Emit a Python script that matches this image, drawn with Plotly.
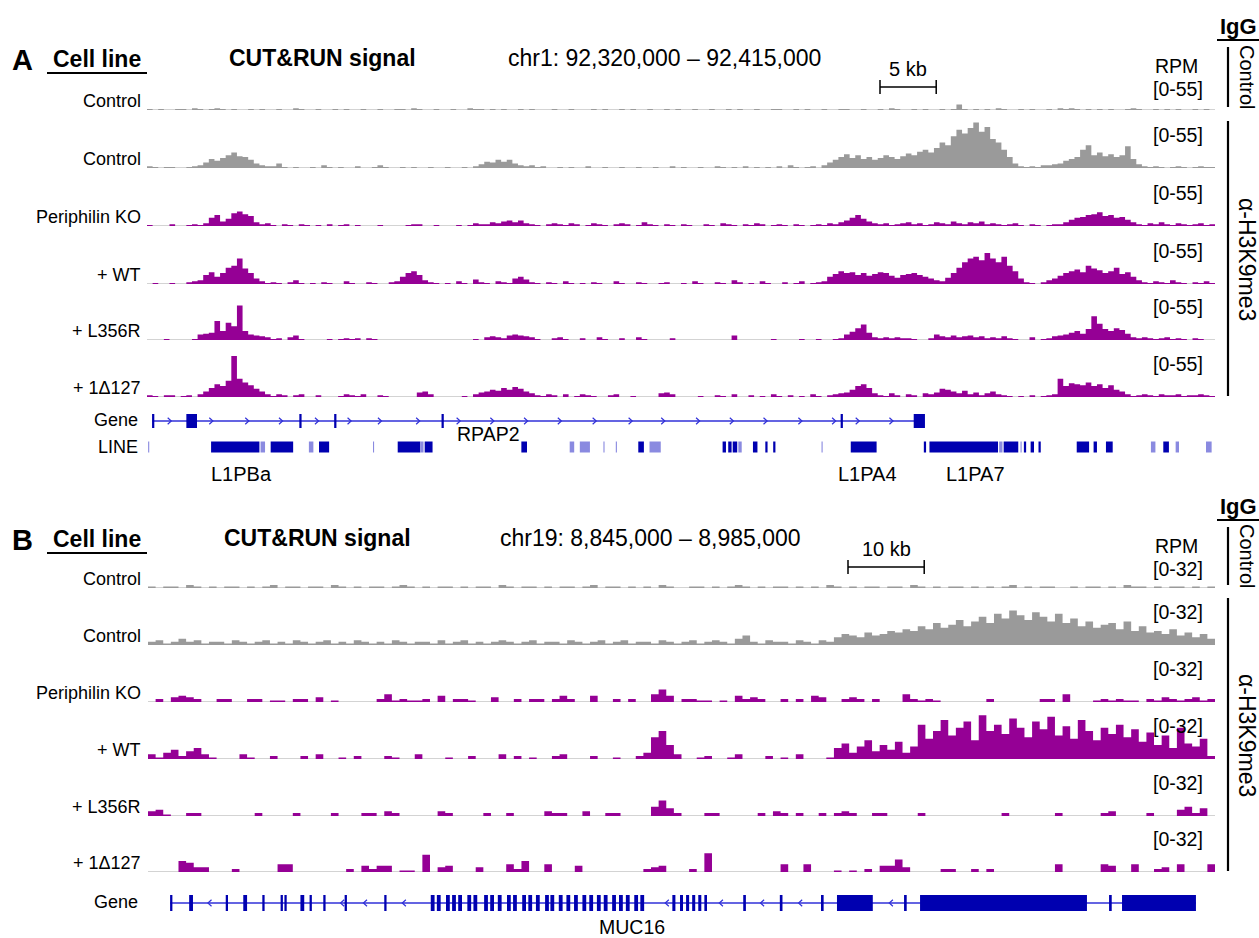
import plotly.graph_objects as go

W, H = 1259, 938
FONT = "Liberation Sans, Arial, Helvetica, sans-serif"

# ======================= DATA : panel A =======================
A_CHR, A_START, A_END = "chr1", 92_320_000, 92_415_000
A_BIN = 500                      # bp per bin
A_YMAX = 55
A_SCALE_LABEL = "[0-55]"
A_TRACK_LABELS = ["Control", "Control", "Periphilin KO", "+ WT", "+ L356R", "+ 1\u0394127"]

A_IGG = [1,0,1,0,0,1,1,0,2,1, 0,1,2,1,0,1,0,0,1,0, 1,0,0,1,0,0,2,1,0,0, 1,0,0,1,0,1,0,0,1,0,
         0,1,0,0,1,1,0,2,1,0, 0,1,0,0,1,0,0,2,1,1, 0,1,0,1,0,0,1,0,1,0, 0,0,1,0,0,1,0,0,0,1,
         0,1,0,0,1,0,1,0,0,1, 0,0,1,0,1,0,0,1,0,0, 1,0,0,1,0,1,0,0,1,0, 0,1,1,0,0,1,0,1,0,0,
         1,0,0,1,1,0,0,1,0,0, 1,0,2,1,0,0,1,0,1,0, 0,1,0,1,6,1,0,1,0,1, 0,2,1,0,0,1,0,1,0,0,
         1,0,2,1,2,1,0,1,0,1, 0,1,0,0,1,2,1,0,0,1, 0,1,0,1,0,0,1,0,1,0]
A_CTRL = [2,1,0,1,1,0,0,1,2,3, 6,10,8,11,14,17,13,12,9,5, 3,2,2,5,1,0,1,0,0,1, 0,3,1,0,1,0,0,2,0,0,
          1,3,1,0,0,1,0,1,0,0, 1,0,0,1,0,0,1,0,2,4, 7,6,9,7,9,5,3,2,3,1, 2,0,0,1,0,1,0,0,2,0,
          0,1,0,0,1,0,0,1,0,0, 1,0,0,2,0,1,0,0,1,0, 0,2,1,0,1,0,2,0,1,0, 1,0,2,0,3,1,0,1,2,0,
          3,6,9,12,15,11,14,10,12,9, 11,14,12,10,13,16,14,18,20,17, 22,28,25,35,42,38,44,50,40,45,
          32,28,20,12,5,2,1,2,1,3, 3,4,5,8,10,12,20,25,14,17, 13,15,12,14,24,10,4,2,1,2,
          1,0,1,2,1,0,1,2,1,1]
A_KO = [1,0,0,0,2,0,0,1,2,1, 3,9,12,5,8,14,16,13,11,4, 2,3,1,0,2,1,0,2,1,0, 1,0,2,0,1,2,0,1,0,0,
        0,1,0,0,0,0,1,2,2,0, 0,1,0,0,0,1,0,1,3,2, 2,4,3,5,6,4,6,3,2,1, 0,2,3,2,1,3,2,0,1,3,
        2,1,0,2,3,2,0,1,4,2, 1,0,2,1,0,2,1,0,0,2, 1,0,3,2,1,0,2,1,3,2, 0,1,2,1,0,2,1,0,1,2,
        1,3,2,4,6,9,12,8,5,3, 2,3,1,2,3,4,2,3,1,2, 4,3,2,5,3,2,4,3,5,2, 3,2,1,2,3,1,0,2,1,0,
        1,2,2,4,7,9,10,12,13,15, 11,12,9,10,7,4,2,1,3,2, 4,2,1,3,2,1,2,3,1,2]
A_WT = [0,1,0,0,1,0,0,2,3,4, 10,13,8,12,18,20,28,17,12,6, 3,1,2,1,0,2,4,1,0,1, 0,2,1,0,0,3,1,0,0,2,
        1,0,0,2,3,8,12,14,10,4, 2,1,0,1,0,3,1,0,5,2, 1,0,3,2,1,6,8,5,2,1, 0,2,1,0,3,1,0,1,0,2,
        1,0,0,3,1,0,0,2,1,0, 0,1,2,0,0,1,0,3,1,0, 0,2,1,0,4,2,0,1,0,3, 1,0,0,2,0,1,3,0,1,2,
        3,8,11,14,12,13,10,12,9,11, 13,12,9,7,10,11,12,10,8,6, 4,3,7,12,18,24,28,30,26,34,
        28,24,30,20,14,6,2,1,0,2, 4,6,9,12,14,16,13,20,17,15, 12,14,18,11,13,8,4,2,1,3,
        2,1,4,2,1,0,2,1,3,1]
A_L356R = [0,0,0,1,0,0,0,0,1,6, 7,8,21,10,19,15,38,10,6,5, 4,3,1,2,0,3,5,1,0,0, 0,0,1,0,1,2,1,2,0,2,
           1,0,0,0,0,0,0,0,0,0, 0,0,0,0,0,0,0,0,1,0, 3,4,3,2,5,6,5,4,3,1, 0,0,2,3,1,0,0,2,0,0,
           3,1,0,0,2,0,0,3,1,0, 0,0,0,2,0,0,0,0,0,0, 0,0,0,0,5,0,0,0,0,0, 0,1,0,0,0,0,1,0,0,1,
           0,0,1,2,6,9,13,17,8,3, 2,3,2,3,2,2,1,0,0,2, 6,4,3,5,3,4,5,3,4,2, 3,2,4,2,1,0,0,3,0,1,
           2,4,5,6,8,10,7,12,26,18, 12,10,13,11,7,3,2,3,2,1, 2,3,1,2,1,0,2,1,0,0]
A_D127 = [2,1,0,2,2,0,1,2,0,3, 6,10,14,12,18,45,20,16,13,9, 6,3,1,3,2,0,2,3,0,0, 2,0,0,0,1,3,2,1,3,0,
          0,2,1,0,0,0,0,0,5,6, 3,0,0,0,0,0,1,0,3,5, 6,8,7,10,8,11,9,6,4,2, 1,3,2,0,3,0,1,3,2,1,
          0,0,2,3,0,0,1,0,0,0, 0,4,5,3,0,0,0,0,1,0, 0,2,1,0,3,0,0,2,0,1, 0,3,1,0,2,0,1,0,3,1,
          0,2,3,4,5,8,12,14,10,4, 2,1,4,2,0,3,2,0,4,3, 5,9,8,6,4,7,3,5,2,4, 6,3,2,1,0,1,0,2,0,1,
          2,3,20,12,15,14,13,16,12,14, 10,13,8,6,3,1,2,3,2,1, 3,2,2,3,1,2,2,3,2,1]
A_TRACKS = [A_IGG, A_CTRL, A_KO, A_WT, A_L356R, A_D127]

# gene RPAP2 (kb from region start, + strand)
A_GENE_NAME, A_GENE_NAME_KB = "RPAP2", 30.4
A_GENE_SPAN_KB = (0.5, 68.6)
A_EXON_START_KB = [0.45, 3.5, 13.55, 16.65, 26.2, 61.7, 68.2]
A_EXON_END_KB   = [0.65, 4.45, 13.75, 16.85, 26.4, 61.9, 69.2]
A_GENE_CHEVRON_KB = [2.0, 5.7, 8.9, 11.9, 15.1, 18.0, 20.7, 24.1, 27.7, 30.7, 33.7, 36.7, 39.8,
                     43.0, 45.9, 49.0, 52.0, 55.0, 58.1, 61.1, 63.2, 66.2]
# LINE repeats (kb, shade 1 = dark, 0 = light)
A_LINE_START_KB = [0.1, 5.7, 10.1, 11.0, 14.4, 15.3, 20.1, 22.3, 24.3, 24.7, 33.3, 37.6, 38.5, 40.6, 41.7,
                   43.7, 44.7, 51.2, 51.7, 52.1, 52.6, 53.9, 55.0, 55.7, 60.0, 62.6, 69.1, 69.6, 75.8, 76.2,
                   77.7, 78.0, 78.6, 79.3, 82.7, 84.2, 85.3, 89.3, 90.4, 91.5, 94.2]
A_LINE_END_KB   = [0.2, 10.0, 10.5, 13.0, 14.8, 16.2, 20.2, 24.3, 24.6, 25.4, 33.8, 38.0, 39.4, 40.7, 41.8,
                   44.2, 45.7, 51.5, 52.0, 52.5, 52.9, 54.3, 55.2, 55.9, 60.1, 64.9, 69.3, 75.7, 76.1, 77.5,
                   77.8, 78.2, 78.9, 79.5, 83.8, 84.5, 85.9, 89.7, 90.9, 91.8, 94.7]
A_LINE_DARK     = [0, 1, 0, 1, 0, 1, 0, 1, 0, 1, 1, 0, 0, 0, 0,
                   1, 0, 1, 1, 1, 0, 1, 1, 1, 0, 1, 1, 1, 0, 1,
                   0, 1, 1, 1, 1, 1, 1, 0, 1, 0, 0]
A_LINE_NAMES = ["L1PBa", "L1PA4", "L1PA7"]
A_LINE_NAME_KB = [8.4, 64.1, 73.7]
A_LINE_CHEV_KB = [8.5, 64.0, 71.4, 73.7]
A_LINE_CHEV_DIR = [-1, -1, 1, 1]
A_SCALEBAR_KB = 5

# ======================= DATA : panel B =======================
B_CHR, B_START, B_END = "chr19", 8_845_000, 8_985_000
B_BIN = 1000
B_YMAX = 32
B_SCALE_LABEL = "[0-32]"
B_TRACK_LABELS = A_TRACK_LABELS

B_IGG = [1,0,1,1,0,2,1,0,1,0, 1,1,0,1,0,1,2,0,1,1, 0,1,1,0,2,1,0,1,0,1, 1,0,1,2,1,0,1,0,1,1,
         0,1,0,1,1,0,2,1,0,1, 1,0,1,0,1,1,0,1,2,0, 1,1,0,1,0,1,0,2,1,0, 0,1,1,0,1,0,1,2,1,0,
         1,0,1,1,0,1,0,1,0,2, 1,0,1,0,1,1,0,1,1,0, 2,1,0,1,0,1,1,0,1,0, 1,0,1,2,0,1,0,1,1,0,
         0,1,0,1,1,0,1,0,2,1, 1,0,1,0,1,1,0,1,0,1]
B_CTRL = [2,3,1,2,4,2,3,1,2,2, 1,3,2,1,2,3,1,2,1,3, 2,1,2,3,1,2,1,3,2,1, 2,1,3,2,1,2,2,1,3,1,
          2,3,1,2,1,2,3,2,1,2, 3,1,2,2,1,3,2,1,2,3, 1,2,3,1,2,2,1,3,2,1, 2,3,1,2,3,2,1,4,6,2,
          1,3,2,2,1,3,2,1,3,2, 5,7,6,5,8,6,7,9,8,10, 9,12,10,14,11,13,16,12,15,18, 14,20,17,22,19,16,21,18,15,20,
          14,17,12,15,11,13,14,10,15,9, 12,8,9,7,10,6,8,5,7,4]
B_KO = [0,2,0,3,4,3,2,0,0,2, 2,0,0,2,2,0,1,1,0,2, 2,0,3,0,1,0,0,0,0,0, 2,5,1,2,1,1,2,0,4,0,
        2,2,1,0,0,3,0,0,2,0, 2,2,0,2,4,2,0,0,4,0, 0,2,0,2,0,0,5,8,4,0, 2,2,1,1,0,1,0,4,2,3,
        2,0,0,2,0,2,0,4,3,0, 0,2,3,2,0,2,0,0,0,5, 2,1,2,1,0,0,0,0,0,0, 2,0,0,0,0,0,0,2,2,0,
        5,0,0,0,1,2,1,2,1,1, 0,2,1,3,2,1,2,3,1,2]
B_WT = [3,1,4,6,2,5,7,3,1,0, 0,0,3,1,0,0,2,0,0,0, 2,0,3,0,0,1,0,2,0,0, 0,2,1,0,0,3,0,0,0,1,
        0,0,2,0,0,0,3,0,2,0, 1,0,0,2,3,0,0,0,2,0, 0,1,0,0,2,4,14,18,9,3, 0,0,1,2,0,0,1,3,0,0,
        0,2,0,1,0,3,0,0,0,1, 7,10,4,8,12,5,9,6,11,4, 8,22,13,18,25,15,20,24,12,28, 18,22,16,26,20,14,24,19,27,15,
        21,13,25,18,12,20,16,22,14,19, 11,17,9,15,7,20,10,8,13,2]
B_L356R = [3,4,1,0,0,2,2,0,0,0, 0,0,0,0,2,0,0,0,0,2, 0,0,0,0,2,0,0,0,2,2, 0,3,2,0,0,0,0,0,3,2,
           0,0,0,0,2,0,0,2,0,0, 0,0,3,2,2,0,0,3,0,0, 2,2,0,0,0,0,6,10,5,2, 0,0,0,2,2,0,0,0,0,0,
           2,0,3,2,0,2,0,0,2,0, 2,3,2,0,0,2,2,0,0,0, 0,2,0,0,0,0,0,0,0,0, 0,0,2,0,0,0,0,0,0,2,
           0,0,0,0,0,2,3,0,0,0, 0,2,0,0,0,4,6,2,5,0]
B_D127 = [0,0,0,0,7,6,3,3,0,0, 0,2,0,0,0,0,0,5,5,0, 0,0,0,0,0,0,2,0,4,2, 4,4,0,1,1,0,11,0,3,4,
          0,0,0,3,0,0,0,5,2,7, 0,0,5,0,0,0,4,0,0,0, 0,0,0,0,0,2,3,4,0,0, 0,2,0,12,0,0,0,0,0,0,
          0,0,0,5,0,0,5,0,0,0, 1,0,1,0,2,0,4,4,8,3, 0,0,0,0,2,2,0,0,2,0, 2,0,0,0,0,0,0,0,0,5,
          0,0,0,0,0,5,4,0,0,5, 0,0,2,3,0,5,0,0,0,5]
B_TRACKS = [B_IGG, B_CTRL, B_KO, B_WT, B_L356R, B_D127]

# gene MUC16 (kb from region start, - strand)
B_GENE_NAME, B_GENE_NAME_KB = "MUC16", 63.5
B_GENE_SPAN_KB = (2.9, 137.5)
B_EXON_START_KB = [2.9, 5.4, 10.2, 12.5, 15.0, 17.4, 17.9, 20.0, 21.2, 23.0, 25.8, 31.0,
                   37.1, 37.9, 39.1, 39.9, 40.7, 41.9, 42.7, 44.1, 44.9, 45.9, 47.1, 47.9, 49.1, 49.9,
                   50.9, 52.1, 52.8, 53.9, 54.9, 55.9, 57.0, 57.9, 58.9, 59.8, 60.9, 61.8, 62.7, 63.8, 64.6,
                   68.8, 69.8, 70.6, 71.4, 72.2, 73.0, 78.1, 82.9, 88.3,
                   90.4, 99.2, 101.3, 126.1, 127.8]
B_EXON_END_KB   = [3.2, 5.9, 10.5, 13.0, 15.3, 17.7, 18.2, 20.5, 21.5, 23.3, 26.1, 31.3,
                   37.6, 38.4, 39.6, 40.4, 41.2, 42.4, 43.2, 44.6, 45.4, 46.4, 47.6, 48.4, 49.6, 50.4,
                   51.4, 52.6, 53.3, 54.4, 55.4, 56.4, 57.5, 58.4, 59.4, 60.3, 61.4, 62.3, 63.2, 64.3, 65.1,
                   69.2, 70.2, 71.0, 71.8, 72.6, 73.35, 78.45, 83.25, 88.65,
                   95.1, 99.55, 123.2, 126.45, 137.5]
B_GENE_CHEV_KB = [8.1, 25.5, 28.5, 33.6, 68.1, 75.2, 80.6, 85.6, 97.5]
B_BLOCK_CHEV_KB = [105.8, 110.4, 114.8, 119.3, 132.4, 136.9]
B_SCALEBAR_KB = 10

# ======================= STYLE / LAYOUT =======================
GRAY, PURPLE = "#9a9a9a", "#950095"
BASE = "#c4c4c4"
GENE_BLUE, GENE_LINE = "#0000b0", "#3030d8"
LINE_LIGHT = "#8a8ae0"
TH = 50  # track height px

A_X_PX = (147, 1215)
B_X_PX = (148, 1215)
A_BASE_PX = [110, 168, 226, 284, 340, 397]
A_GENE_PX, A_LINE_PX = 421, 447
B_BASE_PX = [588, 645, 702, 759, 816, 872]
B_GENE_PX = 903
LABEL_FS, SCALE_FS, HEAD_FS = 18, 19.5, 23


def py(p):
    return 1 - p / H


def px(p):
    return p / W


fig = go.Figure()
layout = dict(
    width=W, height=H, margin=dict(l=0, r=0, t=0, b=0),
    paper_bgcolor="white", plot_bgcolor="white", showlegend=False,
    font=dict(family=FONT, color="black"),
)
layout["xaxis"] = dict(domain=[px(A_X_PX[0]), px(A_X_PX[1])], range=[A_START, A_END],
                       visible=False, anchor="y1")
layout["xaxis2"] = dict(domain=[px(B_X_PX[0]), px(B_X_PX[1])], range=[B_START, B_END],
                        visible=False, anchor="y9")
shapes, anns = [], []


def add_yaxis(n, top_px, bot_px, rng, xanchor):
    layout["yaxis" + ("" if n == 1 else str(n))] = dict(
        domain=[py(bot_px), py(top_px)], range=rng, visible=False, anchor=xanchor)


def text(t, x, y, size, bold=False, xanchor="center", angle=0, xref="paper", color="black"):
    anns.append(dict(text=f"<b>{t}</b>" if bold else t, x=x, y=y, xref=xref, yref="paper",
                     showarrow=False, xanchor=xanchor, yanchor="middle", textangle=angle,
                     font=dict(size=size, family=FONT, color=color)))


def signal(vals, start, binbp, xa, ya, color, end):
    xs = [start + i * binbp for i in range(len(vals))] + [end]
    ys = list(vals) + [vals[-1]]
    fig.add_trace(go.Scatter(x=[start, end], y=[0, 0], mode="lines", line=dict(color=BASE, width=1.3),
                             xaxis=xa, yaxis=ya, hoverinfo="skip"))
    fig.add_trace(go.Scatter(x=xs, y=ys, mode="lines", line=dict(color=color, width=0, shape="hv"),
                             fill="tozeroy", fillcolor=color, xaxis=xa, yaxis=ya, hoverinfo="skip"))


def chevrons(xa, ya, centers_bp, dirs, half_w_bp, half_h, color, width=1.2):
    xs, ys = [], []
    for c, d in zip(centers_bp, dirs):
        xs += [c - d * half_w_bp, c + d * half_w_bp, c - d * half_w_bp, None]
        ys += [half_h, 0, -half_h, None]
    fig.add_trace(go.Scatter(x=xs, y=ys, mode="lines", line=dict(color=color, width=width),
                             xaxis=xa, yaxis=ya, hoverinfo="skip", connectgaps=False))


def panel(letter, tracks, start, end, binbp, ymax, scale_lab, labels, base_px, xa, yoff,
          chr_text, chr_x, bar_kb, bar_px0, x_px):
    ax_n0 = 1 if xa == "x" else 9
    for k, (vals, yb, lab) in enumerate(zip(tracks, base_px, labels)):
        n = ax_n0 + k
        add_yaxis(n, yb - TH, yb, [0, ymax], xa)
        signal(vals, start, binbp, xa, "y" + str(n), GRAY if k < 2 else PURPLE, end)
        text(lab, px(143), py(yb - 9), LABEL_FS, xanchor="right")
        if k > 0:
            text(scale_lab, px(1178), py(yb - 33), SCALE_FS)
    # header
    text(letter, px(22), py(yoff + 60), 29, bold=True)
    text("Cell line", px(97), py(yoff + 59), 23, bold=True)
    shapes.append(dict(type="line", xref="paper", yref="paper", x0=px(47), x1=px(147),
                       y0=py(yoff + 73), y1=py(yoff + 73), line=dict(color="black", width=2.2)))
    text("CUT&RUN signal", px(322 - (4 if xa == "x2" else 0)), py(yoff + 58), HEAD_FS, bold=True)
    text(chr_text, px(chr_x), py(yoff + 58), HEAD_FS)
    text("RPM", px(1176), py(yoff + 66), SCALE_FS)
    text(scale_lab, px(1178), py(yoff + 89), SCALE_FS)
    # scale bar (data coordinates)
    x0 = start + (bar_px0 - x_px[0]) / (x_px[1] - x_px[0]) * (end - start)
    x1 = x0 + bar_kb * 1000
    yb_ = py(yoff + 87)
    shapes.append(dict(type="line", xref=xa, yref="paper", x0=x0, x1=x1, y0=yb_, y1=yb_,
                       line=dict(color="black", width=1.5)))
    for xx in (x0, x1):
        shapes.append(dict(type="line", xref=xa, yref="paper", x0=xx, x1=xx, y0=py(yoff + 80),
                           y1=py(yoff + 94), line=dict(color="black", width=1.5)))
    anns.append(dict(text=f"{bar_kb} kb", x=(x0 + x1) / 2, y=py(yoff + 69), xref=xa, yref="paper",
                     showarrow=False, xanchor="center", yanchor="middle",
                     font=dict(size=20, family=FONT, color="black")))
    # IgG / antibody brackets
    text("IgG", px(1238), py(yoff + 26), 22, bold=True)
    shapes.append(dict(type="line", xref="paper", yref="paper", x0=px(1217), x1=px(1259),
                       y0=py(yoff + 40), y1=py(yoff + 40), line=dict(color="black", width=2.2)))
    shapes.append(dict(type="line", xref="paper", yref="paper", x0=px(1228), x1=px(1228),
                       y0=py(yoff + 47), y1=py(base_px[0] - 3), line=dict(color="black", width=2.2)))
    text("Control", px(1247), py((yoff + 47 + base_px[0] - 3) / 2), 20, angle=90)
    shapes.append(dict(type="line", xref="paper", yref="paper", x0=px(1228), x1=px(1228),
                       y0=py(base_px[1] - 47), y1=py(base_px[5] - 1), line=dict(color="black", width=2.2)))
    text("\u03b1-H3K9me3", px(1247), py((base_px[1] - 47 + base_px[5]) / 2), 23, angle=90)


panel("A", A_TRACKS, A_START, A_END, A_BIN, A_YMAX, A_SCALE_LABEL, A_TRACK_LABELS, A_BASE_PX,
      "x", 0, f"{A_CHR}: 92,320,000 \u2013 92,415,000", 664, A_SCALEBAR_KB, 880, A_X_PX)
panel("B", B_TRACKS, B_START, B_END, B_BIN, B_YMAX, B_SCALE_LABEL, B_TRACK_LABELS, B_BASE_PX,
      "x2", 480, f"{B_CHR}: 8,845,000 \u2013 8,985,000", 650, B_SCALEBAR_KB, 848, B_X_PX)


# ---------------- gene tracks ----------------
def gene(xa, ya, n, center_px, start, span, ex_s, ex_e, half, chev_kb, chev_dir, chev_w_bp,
         block_chev=()):
    add_yaxis(n, center_px - 15, center_px + 15, [-15, 15], xa)
    shapes.append(dict(type="line", xref=xa, yref=ya, x0=start + span[0] * 1000, x1=start + span[1] * 1000,
                       y0=0, y1=0, line=dict(color=GENE_LINE, width=1.4)))
    for s, e in zip(ex_s, ex_e):
        shapes.append(dict(type="rect", xref=xa, yref=ya, x0=start + s * 1000, x1=start + e * 1000,
                           y0=-half, y1=half, fillcolor=GENE_BLUE, line=dict(width=0)))
    chevrons(xa, ya, [start + c * 1000 for c in chev_kb], [chev_dir] * len(chev_kb), chev_w_bp, 3.2,
             GENE_LINE)
    if block_chev:
        chevrons(xa, ya, [start + c * 1000 for c in block_chev], [chev_dir] * len(block_chev), chev_w_bp,
                 3.2, "white")


a_px_per_bp = (A_X_PX[1] - A_X_PX[0]) / (A_END - A_START)
b_px_per_bp = (B_X_PX[1] - B_X_PX[0]) / (B_END - B_START)

gene("x", "y7", 7, A_GENE_PX, A_START, A_GENE_SPAN_KB, A_EXON_START_KB, A_EXON_END_KB, 7,
     A_GENE_CHEVRON_KB, 1, 1.8 / a_px_per_bp)
text("Gene", px(140), py(A_GENE_PX - 1), LABEL_FS, xanchor="right")
anns.append(dict(text=A_GENE_NAME, x=A_START + A_GENE_NAME_KB * 1000, y=py(A_GENE_PX + 13), xref="x",
                 yref="paper", showarrow=False, xanchor="center", yanchor="middle",
                 font=dict(size=19.5, family=FONT, color="black")))

# LINE track
add_yaxis(8, A_LINE_PX - 15, A_LINE_PX + 15, [-15, 15], "x")
for s, e, d in zip(A_LINE_START_KB, A_LINE_END_KB, A_LINE_DARK):
    shapes.append(dict(type="rect", xref="x", yref="y8", x0=A_START + s * 1000, x1=A_START + e * 1000,
                       y0=-5.5, y1=5.5, fillcolor=GENE_BLUE if d else LINE_LIGHT, line=dict(width=0)))
chevrons("x", "y8", [A_START + c * 1000 for c in A_LINE_CHEV_KB], A_LINE_CHEV_DIR, 1.6 / a_px_per_bp, 2.8,
         "white", 1.1)
text("LINE", px(140), py(A_LINE_PX), LABEL_FS, xanchor="right")
for nm, kb in zip(A_LINE_NAMES, A_LINE_NAME_KB):
    anns.append(dict(text=nm, x=A_START + kb * 1000, y=py(A_LINE_PX + 27), xref="x", yref="paper",
                     showarrow=False, xanchor="center", yanchor="middle",
                     font=dict(size=20, family=FONT, color="black")))

gene("x2", "y15", 15, B_GENE_PX, B_START, B_GENE_SPAN_KB, B_EXON_START_KB, B_EXON_END_KB, 8,
     B_GENE_CHEV_KB, -1, 1.8 / b_px_per_bp, B_BLOCK_CHEV_KB)
text("Gene", px(140), py(B_GENE_PX - 1), LABEL_FS, xanchor="right")
anns.append(dict(text=B_GENE_NAME, x=B_START + B_GENE_NAME_KB * 1000, y=py(B_GENE_PX + 24), xref="x2",
                 yref="paper", showarrow=False, xanchor="center", yanchor="middle",
                 font=dict(size=19.5, family=FONT, color="black")))

layout["shapes"] = shapes
layout["annotations"] = anns
fig.update_layout(**layout)
fig.write_html("out.html")
